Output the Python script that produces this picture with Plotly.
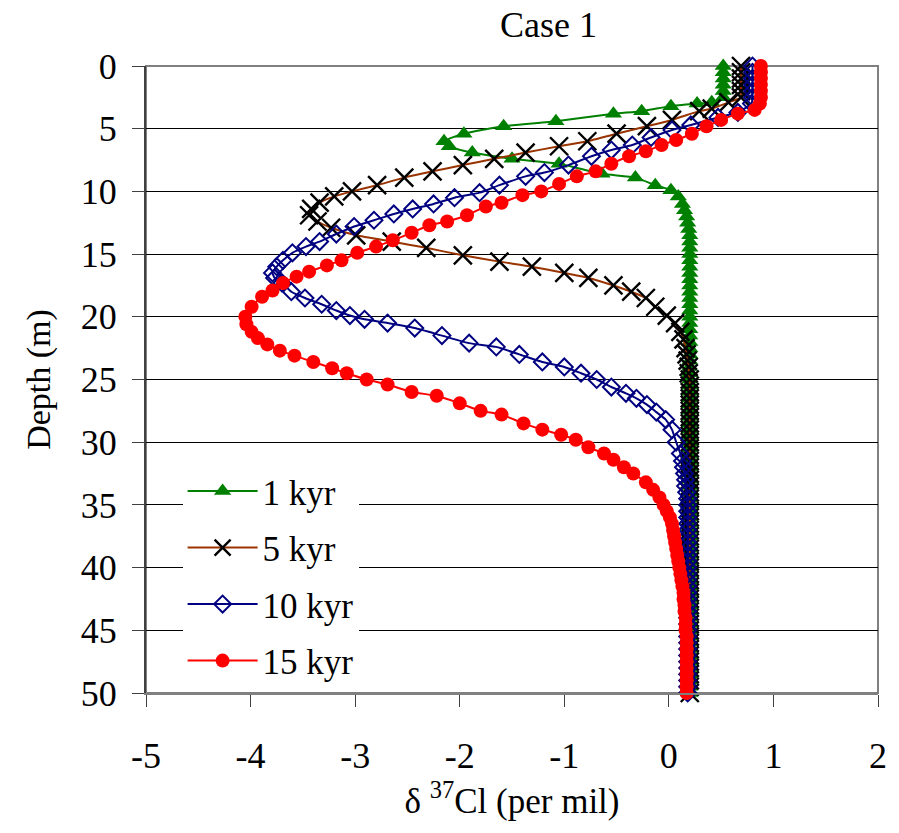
import plotly.graph_objects as go

# ---------------- data ----------------
series_names = ["1 kyr", "5 kyr", "10 kyr", "15 kyr"]

# 1 kyr
depth_1kyr = [0, 0.5, 1.0, 1.5, 2.0, 2.5, 2.9, 3.0, 3.2, 3.6, 3.8, 4.4, 4.8, 5.4, 6.0, 6.4,
              6.9, 7.4, 7.8, 8.6, 8.9, 9.5, 9.9, 10.4, 11.0, 11.5, 12.0, 12.5, 13.0, 13.5, 14.0,
              14.5, 15.0, 15.5, 16.0, 16.5, 17.0, 17.5, 18.0, 18.5, 19.0, 19.5, 20.0, 20.5, 21.0,
              21.5, 22.0, 22.5, 23.0, 23.5, 24.0, 24.5, 25.0, 25.5, 26.0, 26.5, 27.0, 27.5, 28.0,
              28.5, 29.0, 29.5, 30.0, 30.5, 31.0, 31.5, 32.0, 32.5, 33.0, 33.5, 34.0, 34.5, 35.0,
              35.5, 36.0, 36.5, 37.0, 37.5, 38.0, 38.5, 39.0, 39.5, 40.0, 40.5, 41.0, 41.5, 42.0,
              42.5, 43.0, 43.5, 44.0, 44.5, 45.0, 45.5, 46.0, 46.5, 47.0, 47.5, 48.0, 48.5, 49.0,
              49.5, 50.0]
d37cl_1kyr = [0.52, 0.52, 0.52, 0.52, 0.52, 0.52, 0.41, 0.27, 0.02, -0.26, -0.53, -1.08, -1.58, -1.96, -2.15, -2.10,
              -1.88, -1.50, -1.05, -0.64, -0.32, -0.13, 0.02, 0.09, 0.13, 0.15, 0.17, 0.18, 0.19, 0.20, 0.20,
              0.20, 0.20, 0.20, 0.20, 0.20, 0.20, 0.20, 0.20, 0.20, 0.20, 0.20, 0.20, 0.20, 0.20,
              0.20, 0.20, 0.20, 0.20, 0.20, 0.20, 0.20, 0.20, 0.20, 0.20, 0.20, 0.20, 0.20, 0.20,
              0.20, 0.20, 0.20, 0.20, 0.20, 0.20, 0.20, 0.20, 0.20, 0.20, 0.20, 0.20, 0.20, 0.20,
              0.20, 0.20, 0.20, 0.20, 0.20, 0.20, 0.20, 0.20, 0.20, 0.20, 0.20, 0.20, 0.20, 0.20,
              0.20, 0.20, 0.20, 0.20, 0.20, 0.20, 0.20, 0.20, 0.20, 0.20, 0.20, 0.20, 0.20, 0.20,
              0.20, 0.20]

# 5 kyr
depth_5kyr = [0, 0.5, 1.0, 1.5, 2.0, 2.5, 2.9, 3.4, 3.6, 4.3, 4.8, 5.4, 6.0, 6.4, 6.9, 7.4, 7.9,
              8.4, 8.9, 9.5, 10.0, 10.4, 10.9, 11.4, 11.9, 12.4, 12.9, 13.5, 14.0, 14.5, 15.1, 15.6,
              16.0, 16.5, 16.9, 17.5, 18.0, 18.5, 19.2, 19.9, 20.5, 21.2, 21.8, 22.5, 23.0, 23.5,
              24.0, 24.5, 25.0, 25.5, 26.0, 26.5, 27.0, 27.5, 28.0, 28.5, 29.0, 29.5, 30.0, 30.5,
              31.0, 31.5, 32.0, 32.5, 33.0, 33.5, 34.0, 34.5, 35.0, 35.5, 36.0, 36.5, 37.0, 37.5,
              38.0, 38.5, 39.0, 39.5, 40.0, 40.5, 41.0, 41.5, 42.0, 42.5, 43.0, 43.5, 44.0, 44.5,
              45.0, 45.5, 46.0, 46.5, 47.0, 47.5, 48.0, 48.5, 49.0, 49.5, 50.0]
d37cl_5kyr = [0.69, 0.69, 0.69, 0.69, 0.69, 0.69, 0.57, 0.41, 0.29, 0.03, -0.21, -0.50, -0.78, -1.05, -1.37, -1.67, -1.97,
              -2.26, -2.53, -2.79, -3.03, -3.20, -3.34, -3.42, -3.44, -3.36, -3.23, -2.99, -2.65, -2.32, -1.97, -1.62,
              -1.31, -1.00, -0.77, -0.53, -0.36, -0.22, -0.13, -0.02, 0.06, 0.11, 0.14, 0.16, 0.17, 0.18,
              0.19, 0.19, 0.20, 0.20, 0.20, 0.20, 0.20, 0.20, 0.20, 0.20, 0.20, 0.20, 0.20, 0.20,
              0.20, 0.20, 0.20, 0.20, 0.20, 0.20, 0.20, 0.20, 0.20, 0.20, 0.20, 0.20, 0.20, 0.20,
              0.20, 0.20, 0.20, 0.20, 0.20, 0.20, 0.20, 0.20, 0.20, 0.20, 0.20, 0.20, 0.20, 0.20,
              0.20, 0.20, 0.20, 0.20, 0.20, 0.20, 0.20, 0.20, 0.20, 0.20, 0.20]

# 10 kyr
depth_10kyr = [0, 0.5, 1.0, 1.5, 2.0, 2.5, 3.0, 3.7, 4.1, 4.7, 5.1, 5.7, 6.3, 6.7, 7.2, 7.9, 8.5,
               8.8, 9.5, 10.1, 10.5, 11.0, 11.4, 11.8, 12.3, 12.8, 13.4, 14.0, 14.4, 14.9, 15.5, 16.0,
               16.5, 16.9, 17.3, 18.0, 18.5, 19.0, 19.5, 19.9, 20.2, 20.5, 20.9, 21.5, 22.1, 22.4,
               23.0, 23.6, 24.0, 24.5, 25.0, 25.6, 26.1, 26.5, 27.0, 27.6, 28.2, 29.0, 30.0, 30.9,
               31.5, 32.0, 32.5, 33.0, 33.5, 34.0, 34.5, 35.0, 35.5, 36.0, 36.5, 37.0, 37.5, 38.0,
               38.5, 39.0, 39.5, 40.0, 40.5, 41.0, 41.5, 42.0, 42.5, 43.0, 43.5, 44.0, 44.5, 45.0,
               45.5, 46.0, 46.5, 47.0, 47.5, 48.0, 48.5, 49.0, 49.5, 50.0]
d37cl_10kyr = [0.80, 0.80, 0.80, 0.80, 0.80, 0.80, 0.79, 0.66, 0.47, 0.21, 0.03, -0.17, -0.35, -0.55, -0.74, -0.96, -1.19,
               -1.37, -1.62, -1.81, -2.05, -2.25, -2.45, -2.63, -2.82, -3.01, -3.18, -3.34, -3.47, -3.60, -3.69, -3.75,
               -3.79, -3.77, -3.70, -3.61, -3.48, -3.32, -3.18, -3.05, -2.91, -2.69, -2.43, -2.17, -1.91, -1.65,
               -1.43, -1.21, -1.00, -0.84, -0.69, -0.55, -0.41, -0.31, -0.21, -0.12, -0.03, 0.03, 0.07, 0.11,
               0.13, 0.14, 0.15, 0.16, 0.16, 0.17, 0.18, 0.18, 0.18, 0.18, 0.18, 0.18, 0.18, 0.18,
               0.18, 0.18, 0.18, 0.18, 0.18, 0.18, 0.18, 0.18, 0.18, 0.18, 0.18, 0.18, 0.18, 0.18,
               0.18, 0.18, 0.18, 0.18, 0.18, 0.18, 0.18, 0.18, 0.18, 0.18]

# 15 kyr
depth_15kyr = [0, 0.5, 1.0, 1.5, 2.0, 2.5, 3.0, 3.5, 3.8, 4.3, 4.8, 5.4, 5.9, 6.3, 6.8, 7.2, 7.8,
               8.4, 8.8, 9.4, 10.0, 10.3, 10.9, 11.2, 11.9, 12.4, 12.7, 13.3, 13.9, 14.4, 14.9, 15.5,
               15.9, 16.4, 16.8, 17.3, 17.9, 18.4, 19.2, 20.0, 20.6, 21.2, 21.7, 22.2, 22.7, 23.1,
               23.6, 24.1, 24.5, 25.0, 25.4, 26.0, 26.3, 26.9, 27.5, 27.8, 28.5, 29.0, 29.4, 29.8,
               30.4, 30.9, 31.4, 32.0, 32.5, 33.2, 33.8, 34.4, 35.0, 35.5, 36.0, 36.5, 37.0, 37.5,
               38.0, 38.5, 39.0, 39.5, 40.0, 40.5, 41.0, 41.5, 42.0, 42.5, 43.0, 43.5, 44.0, 44.5,
               45.0, 45.5, 46.0, 46.5, 47.0, 47.5, 48.0, 48.5, 49.0, 49.5, 50.0]
d37cl_15kyr = [0.88, 0.88, 0.88, 0.88, 0.88, 0.88, 0.87, 0.82, 0.66, 0.50, 0.36, 0.22, 0.07, -0.07, -0.22, -0.38, -0.55,
               -0.70, -0.88, -1.05, -1.22, -1.40, -1.60, -1.75, -1.93, -2.12, -2.29, -2.46, -2.64, -2.80, -2.98, -3.13,
               -3.27, -3.44, -3.56, -3.69, -3.79, -3.89, -3.99, -4.05, -4.04, -3.99, -3.93, -3.84, -3.72, -3.58,
               -3.40, -3.22, -3.08, -2.89, -2.69, -2.46, -2.22, -2.00, -1.80, -1.60, -1.39, -1.21, -1.03, -0.89,
               -0.77, -0.62, -0.53, -0.43, -0.34, -0.22, -0.15, -0.09, -0.05, -0.02, 0.01, 0.03, 0.04, 0.05,
               0.06, 0.07, 0.08, 0.09, 0.10, 0.11, 0.12, 0.13, 0.14, 0.14, 0.15, 0.15, 0.16, 0.16,
               0.16, 0.17, 0.17, 0.17, 0.17, 0.17, 0.17, 0.17, 0.17, 0.17, 0.17]

y_tick_values = [0, 5, 10, 15, 20, 25, 30, 35, 40, 45, 50]
y_tick_labels = ["0", "5", "10", "15", "20", "25", "30", "35", "40", "45", "50"]
x_tick_values = [-5, -4, -3, -2, -1, 0, 1, 2]
x_tick_labels = ["-5", "-4", "-3", "-2", "-1", "0", "1", "2"]

# ---------------- figure ----------------
FONT = "Liberation Serif, Times New Roman, serif"

styles = [
    dict(line=dict(color="#008000", width=2),
         marker=dict(symbol="triangle-up", size=15, color="#008000", line=dict(width=0))),
    dict(line=dict(color="#993300", width=2),
         marker=dict(symbol="x-thin", size=18, color="#000000", line=dict(color="#000000", width=2.4))),
    dict(line=dict(color="#000080", width=2),
         marker=dict(symbol="diamond-open", size=13, color="#000080", line=dict(color="#000080", width=2))),
    dict(line=dict(color="#FF0000", width=2),
         marker=dict(symbol="circle", size=14, color="#FF0000", line=dict(width=0))),
]

xs = [d37cl_1kyr, d37cl_5kyr, d37cl_10kyr, d37cl_15kyr]
ys = [depth_1kyr, depth_5kyr, depth_10kyr, depth_15kyr]

fig = go.Figure()
for i, name in enumerate(series_names):
    fig.add_trace(go.Scatter(
        x=xs[i], y=ys[i], name=name, mode="lines+markers",
        line=dict(shape="spline", smoothing=0.5, **styles[i]["line"]),
        marker=styles[i]["marker"],
        cliponaxis=False,
        legendgroup=name,
    ))

# page body has an 8px margin: figure is shrunk so the plot area lands where the reference has it
fig.update_layout(
    width=891, height=825,
    margin=dict(l=138, r=19, t=58, b=140),
    paper_bgcolor="white", plot_bgcolor="white",
    font=dict(family=FONT, size=35, color="black"),
    title=dict(text="Case 1", x=0.55, xref="paper", xanchor="center",
               y=0.995, yref="container", yanchor="top", pad=dict(t=0, b=0),
               font=dict(family=FONT, size=36, color="black")),
    showlegend=True,
    legend=dict(x=0.05, y=0.005, xanchor="left", yanchor="bottom",
                bgcolor="white", borderwidth=0,
                font=dict(family=FONT, size=35, color="black"),
                traceorder="grouped", tracegroupgap=8, itemwidth=70),
    shapes=[dict(type="rect", xref="paper", yref="paper", x0=0, y0=0, x1=1, y1=1,
                 line=dict(color="#808080", width=2), layer="between")],
)

fig.update_xaxes(
    range=[-5, 2], tickmode="array", tickvals=x_tick_values, ticktext=x_tick_labels,
    showgrid=False, zeroline=False,
    showline=True, linecolor="#808080", linewidth=2,
    ticks="outside", ticklen=12, tickcolor="#404040", tickwidth=1,
    ticklabelstandoff=18,
    tickfont=dict(family=FONT, size=36),
    title=dict(text="δ <sup>37</sup>Cl (per mil)", font=dict(family=FONT, size=35), standoff=6),
)
fig.update_yaxes(
    range=[50, 0], tickmode="array", tickvals=y_tick_values, ticktext=y_tick_labels,
    showgrid=True, gridcolor="#000000", gridwidth=1, zeroline=False,
    showline=True, linecolor="#404040", linewidth=2,
    ticks="outside", ticklen=12, tickcolor="#404040", tickwidth=1,
    ticklabelstandoff=8,
    tickfont=dict(family=FONT, size=36),
    title=dict(text="Depth (m)", font=dict(family=FONT, size=34), standoff=20),
)

fig.write_html("out.html")
